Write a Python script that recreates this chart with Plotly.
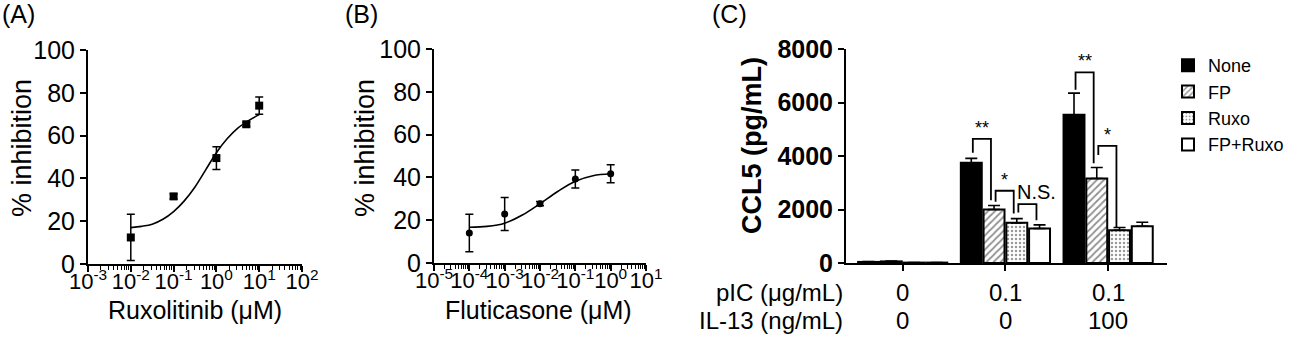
import plotly.graph_objects as go

W, H = 1300, 339
FONT = "Arial, Liberation Sans, Helvetica, sans-serif"

# ---------------- Panel A data ----------------
rux_conc = [0.01, 0.1, 1, 5, 10]
rux_inh = [12.4, 31.6, 49.5, 65.3, 74.0]
rux_err = [10.8, 1.2, 5.3, 1.0, 4.0]
rux_fit_logx = [-2, -1.75, -1.5, -1.25, -1, -0.75, -0.5, -0.25, 0, 0.25, 0.5, 0.75, 1]
rux_fit_y = [17.0, 17.6, 18.6, 20.9, 24.5, 29.5, 36.0, 44.0, 52.0, 58.5, 63.5, 67.0, 69.8]

# ---------------- Panel B data ----------------
flu_conc = [1e-4, 1e-3, 1e-2, 1e-1, 1]
flu_inh = [14.0, 22.9, 27.7, 39.3, 41.7]
flu_err = [8.8, 7.7, 1.0, 4.2, 4.2]
flu_fit_logx = [-4, -3.5, -3, -2.5, -2, -1.5, -1, -0.5, 0]
flu_fit_y = [16.7, 17.1, 18.6, 22.4, 27.7, 33.4, 38.2, 40.8, 41.7]

# ---------------- Panel C data ----------------
group_pos = [0, 1, 2]
pic_labels = ["0", "0.1", "0.1"]
il13_labels = ["0", "0", "100"]
series_names = ["None", "FP", "Ruxo", "FP+Ruxo"]
none_vals = [40, 3750, 5540]
none_err = [10, 160, 810]
fp_vals = [60, 2000, 3160]
fp_err = [10, 150, 410]
ruxo_vals = [15, 1500, 1225]
ruxo_err = [5, 160, 100]
fpr_vals = [15, 1290, 1375]
fpr_err = [5, 135, 150]
ccl5_ticks = [0, 2000, 4000, 6000, 8000]

# significance brackets: (group, bar_i, bar_j, top, left_bottom, right_bottom, label, label_xshift)
brackets = [
    (1, 0, 1, 4640, 4125, 2350, "**", 0),
    (1, 1, 2, 2700, 2290, 1850, "*", 0),
    (1, 2, 3, 2200, 1890, 1600, "N.S.", 9),
    (2, 0, 1, 7125, 6475, 3725, "**", 0),
    (2, 1, 2, 4375, 4037, 1350, "*", 0),
]

fig = go.Figure()

# Panel A
fig.add_trace(go.Scatter(
    x=[10 ** v for v in rux_fit_logx], y=rux_fit_y, mode="lines",
    line=dict(color="black", width=1.6, shape="spline"), showlegend=False,
    xaxis="x", yaxis="y"))
fig.add_trace(go.Scatter(
    x=rux_conc, y=rux_inh, mode="markers",
    marker=dict(symbol="square", size=8, color="black"),
    error_y=dict(type="data", array=rux_err, color="black", thickness=1.5, width=4),
    showlegend=False, xaxis="x", yaxis="y"))

# Panel B
fig.add_trace(go.Scatter(
    x=[10 ** v for v in flu_fit_logx], y=flu_fit_y, mode="lines",
    line=dict(color="black", width=1.6, shape="spline"), showlegend=False,
    xaxis="x2", yaxis="y2"))
fig.add_trace(go.Scatter(
    x=flu_conc, y=flu_inh, mode="markers",
    marker=dict(symbol="circle", size=7, color="black"),
    error_y=dict(type="data", array=flu_err, color="black", thickness=1.5, width=4),
    showlegend=False, xaxis="x2", yaxis="y2"))

# Panel C bars
vals_list = [none_vals, fp_vals, ruxo_vals, fpr_vals]
errs_list = [none_err, fp_err, ruxo_err, fpr_err]
fills = [
    dict(color="black"),
    dict(color="white", pattern=dict(shape="/", fgcolor="#222", bgcolor="white", size=5, solidity=0.35)),
    dict(color="white", pattern=dict(shape=".", fgcolor="#333", bgcolor="white", size=4, solidity=0.3)),
    dict(color="white"),
]
for name, vals, errs, fill in zip(series_names, vals_list, errs_list, fills):
    m = dict(fill)
    m["line"] = dict(color="black", width=2)
    fig.add_trace(go.Bar(
        x=group_pos, y=vals, name=name, marker=m,
        error_y=dict(type="data", array=errs, arrayminus=[0] * len(errs), symmetric=False,
                     color="black", thickness=1.6, width=6),
        xaxis="x3", yaxis="y3"))

BARGAP = 0.114
slot = (1 - BARGAP) / 4


def bar_center(g, i):
    return g + (i - 1.5) * slot


shapes = []
annotations = []
for g, i, j, top, lb, rb, lab, xs in brackets:
    xl = bar_center(g, i) + 0.015
    xr = bar_center(g, j) - 0.03
    shapes.append(dict(type="path", xref="x3", yref="y3",
                       path=f"M {xl},{lb} L {xl},{top} L {xr},{top} L {xr},{rb}",
                       line=dict(color="black", width=1.8)))
    annotations.append(dict(x=(xl + xr) / 2, y=top, xref="x3", yref="y3", text=lab,
                            showarrow=False, xanchor="center", yanchor="bottom",
                            xshift=xs, yshift=-1,
                            font=dict(family=FONT, size=20 if lab == "N.S." else 18, color="black")))


def px_x(p):
    return p / W


def px_y(p):
    return 1 - p / H


def txt(text, x, y, size, xref="paper", angle=0, xanchor="center", yanchor="middle"):
    return dict(x=x, y=y, xref=xref, yref="paper", text=text, textangle=angle,
                showarrow=False, xanchor=xanchor, yanchor=yanchor,
                font=dict(family=FONT, size=size, color="black"))


# panel letters
for lab, xp in [("(A)", 0), ("(B)", 343), ("(C)", 710)]:
    annotations.append(txt(lab, px_x(xp), px_y(14), 25, xanchor="left"))

# axis titles and table
annotations += [
    txt("% inhibition", px_x(22), px_y(148), 27, angle=-90),
    txt("Ruxolitinib (μM)", px_x(195), px_y(310), 25),
    txt("% inhibition", px_x(365), px_y(148), 27, angle=-90),
    txt("Fluticasone (μM)", px_x(538), px_y(310), 25),
    txt("<b>CCL5 (pg/mL)</b>", px_x(752), px_y(146), 27, angle=-90),
    txt("pIC (μg/mL)", px_x(845), px_y(292), 24, xanchor="right"),
    txt("IL-13 (ng/mL)", px_x(845), px_y(320), 24, xanchor="right"),
]
for gp, a, b in zip(group_pos, pic_labels, il13_labels):
    annotations.append(txt(a, gp, px_y(292), 24, xref="x3"))
    annotations.append(txt(b, gp, px_y(320), 24, xref="x3"))


def log_axis(lo, hi, domain, anchor):
    decades = list(range(lo, hi + 1))
    minor_vals = [k * 10 ** d for d in range(lo, hi) for k in range(2, 10)]
    return dict(type="log", range=[lo, hi], domain=domain, anchor=anchor, automargin=False,
                tickvals=[10 ** d for d in decades],
                ticktext=[f"10<sup>{d}</sup>" for d in decades], tickangle=0,
                ticklabelstandoff=-9,
                ticks="outside", ticklen=6, tickwidth=2, tickcolor="black",
                minor=dict(tickvals=minor_vals, ticks="outside", ticklen=4, tickwidth=1.3,
                           tickcolor="black", showgrid=False),
                showline=True, linecolor="black", linewidth=2, showgrid=False, zeroline=False,
                tickfont=dict(family=FONT, size=22, color="black"))


def lin_y(domain, anchor, rng, dtick):
    return dict(range=rng, domain=domain, anchor=anchor, dtick=dtick, tick0=0, automargin=False,
                ticks="outside", ticklen=6, tickwidth=2, tickcolor="black",
                showline=True, linecolor="black", linewidth=2, showgrid=False, zeroline=False,
                tickfont=dict(family=FONT, size=25, color="black"))


ydomA = [px_y(264), px_y(50)]
ydomB = [px_y(263), px_y(49)]

fig.update_layout(
    width=W, height=H, margin=dict(l=0, r=0, t=0, b=0, autoexpand=False),
    paper_bgcolor="white", plot_bgcolor="white",
    font=dict(family=FONT, color="black"),
    barmode="group", bargap=BARGAP, bargroupgap=0.08,
    xaxis=log_axis(-3, 2, [px_x(88), px_x(302)], "y"),
    yaxis=lin_y(ydomA, "x", [0, 100], 20),
    xaxis2=log_axis(-5, 1, [px_x(434), px_x(646)], "y2"),
    yaxis2=lin_y(ydomB, "x2", [0, 100], 20),
    xaxis3=dict(domain=[px_x(846), px_x(1167)], anchor="y3", range=[-0.552, 2.573],
                automargin=False,
                tickvals=group_pos, showticklabels=False, ticks="outside", ticklen=6, tickwidth=2,
                tickcolor="black", showline=True, linecolor="black", linewidth=2,
                showgrid=False, zeroline=False),
    yaxis3=dict(domain=ydomB, anchor="x3", range=[0, 8000], tickvals=ccl5_ticks, automargin=False,
                ticks="outside", ticklen=6, tickwidth=2, tickcolor="black",
                showline=True, linecolor="black", linewidth=2, showgrid=False, zeroline=False,
                tickfont=dict(family=FONT, size=25, color="black", weight="bold")),
    legend=dict(x=px_x(1168), y=px_y(47), xanchor="left", yanchor="top",
                font=dict(family=FONT, size=18, color="black"), bgcolor="rgba(0,0,0,0)",
                tracegroupgap=0),
    shapes=shapes, annotations=annotations,
)

fig.write_html("out.html")
